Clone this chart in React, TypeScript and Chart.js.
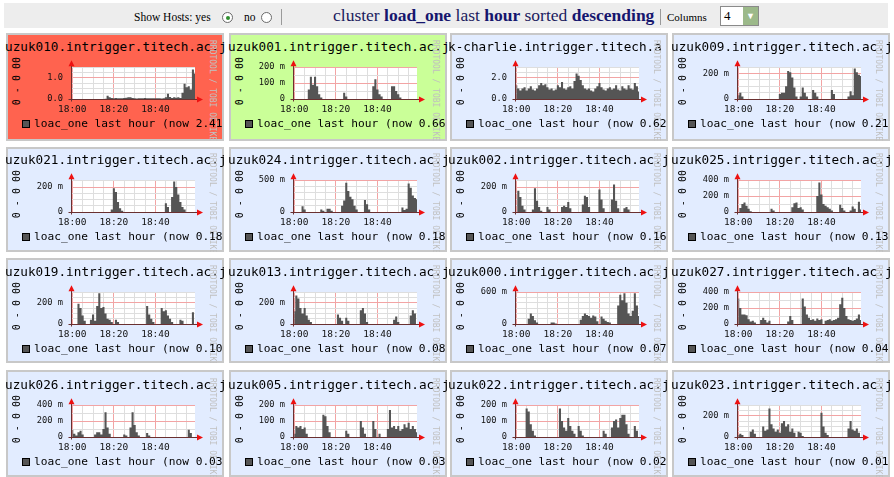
import React, { useEffect, useRef } from "react";
import { Chart, registerables } from "chart.js";

Chart.register(...registerables);

// ---------- data ----------
const MINUTES = [
  0, 1, 2, 3, 4, 5, 6, 7, 8, 9, 10, 11, 12, 13, 14, 15, 16, 17, 18, 19,
  20, 21, 22, 23, 24, 25, 26, 27, 28, 29, 30, 31, 32, 33, 34, 35, 36, 37, 38, 39,
  40, 41, 42, 43, 44, 45, 46, 47, 48, 49, 50, 51, 52, 53, 54, 55, 56, 57, 58, 59,
];
const X_GRID_MINUTES = [0, 5, 10, 15, 20, 25, 30, 35, 40, 45, 50, 55];
const X_LABEL_MINUTES = [0, 20, 40];
const X_LABEL_TEXT = ["18:00", "18:20", "18:40"];

const HOSTS = [
  "uzuk010.intrigger.titech.ac.j",
  "uzuk001.intrigger.titech.ac.j",
  "k-charlie.intrigger.titech.a",
  "uzuk009.intrigger.titech.ac.j",
  "uzuk021.intrigger.titech.ac.j",
  "uzuk024.intrigger.titech.ac.j",
  "uzuk002.intrigger.titech.ac.j",
  "uzuk025.intrigger.titech.ac.j",
  "uzuk019.intrigger.titech.ac.j",
  "uzuk013.intrigger.titech.ac.j",
  "uzuk000.intrigger.titech.ac.j",
  "uzuk027.intrigger.titech.ac.j",
  "uzuk026.intrigger.titech.ac.j",
  "uzuk005.intrigger.titech.ac.j",
  "uzuk022.intrigger.titech.ac.j",
  "uzuk023.intrigger.titech.ac.j",
];
const NOW_VALUES = [
  "2.41", "0.66", "0.62", "0.21", "0.18", "0.18", "0.16", "0.13",
  "0.10", "0.08", "0.07", "0.04", "0.03", "0.03", "0.02", "0.01",
];
const HOST_COLORS = [
  "#ff634f", "#caff98", "#e2ecff", "#e2ecff",
  "#e2ecff", "#e2ecff", "#e2ecff", "#e2ecff",
  "#e2ecff", "#e2ecff", "#e2ecff", "#e2ecff",
  "#e2ecff", "#e2ecff", "#e2ecff", "#e2ecff",
];

const LOAD_UZUK010 = [
  0, 0, 0, 0, 0, 0, 0, 0, 0, 0,
  0, 0, 0, 0, 0, 0, 0.01, 0.15, 0.08, 0.05,
  0.04, 0.05, 0.03, 0.04, 0.03, 0.05, 0.06, 0.08, 0.08, 0.05,
  0.03, 0.02, 0.03, 0.04, 0.03, 0.05, 0.04, 0.03, 0.04, 0.03,
  0.03, 0.04, 0.03, 0.02, 0.03, 0.08, 0.25, 0.1, 0.05, 0.08,
  0.06, 0.08, 0.05, 0.3, 0.72, 0.55, 0.6, 0.45, 1.39, 1.2,
];
const LOAD_UZUK001 = [
  0, 0, 0, 0, 0, 0, 0, 0.06, 0.14, 0.09,
  0.14, 0.08, 0.03, 0.01, 0, 0, 0, 0, 0, 0,
  0, 0, 0, 0, 0.04, 0.015, 0, 0, 0, 0,
  0, 0, 0, 0, 0, 0, 0, 0, 0.08, 0.125,
  0.06, 0.03, 0.015, 0, 0, 0, 0, 0.08, 0.08, 0.05,
  0.03, 0.01, 0, 0, 0, 0, 0, 0, 0, 0,
];
const LOAD_CHARLIE = [
  1.3, 1.0, 0.8, 1.0, 1.1, 0.8, 1.0, 1.2, 0.9, 0.8,
  1.0, 1.3, 1.5, 1.3, 1.4, 1.1, 0.9, 1.0, 0.8, 0.9,
  1.3, 1.1, 1.6, 1.0, 0.9, 1.1, 1.2, 1.0, 1.7, 2.4,
  2.2, 1.8, 1.3, 1.0, 0.9, 1.0, 0.8, 0.7, 1.0, 1.2,
  1.5, 1.1, 0.9, 0.8, 1.0, 1.1, 0.9, 1.0, 1.3, 0.9,
  0.8, 1.2, 1.0, 0.9, 1.3, 1.0, 0.9, 1.5, 1.2, 0.7,
];
const LOAD_UZUK009 = [
  0.03, 0.05, 0.02, 0, 0, 0, 0, 0, 0, 0,
  0, 0, 0, 0, 0, 0, 0, 0, 0, 0,
  0.04, 0.05, 0.05, 0.1, 0.22, 0.21, 0.17, 0.09, 0.02, 0,
  0.02, 0.09, 0.05, 0.02, 0, 0, 0.07, 0.05, 0.02, 0,
  0, 0, 0, 0, 0, 0.07, 0.04, 0, 0, 0,
  0, 0, 0, 0.02, 0.06, 0.03, 0.24, 0.21, 0.19, 0.18,
];
const LOAD_UZUK021 = [
  0, 0, 0, 0, 0, 0, 0, 0, 0, 0,
  0, 0, 0, 0, 0, 0, 0, 0, 0, 0.02,
  0.19, 0.16, 0.08, 0.03, 0.01, 0, 0, 0, 0, 0,
  0, 0, 0, 0, 0, 0, 0, 0, 0, 0,
  0, 0, 0, 0, 0, 0.07, 0.04, 0, 0.12, 0.245,
  0.2, 0.14, 0.08, 0.04, 0.02, 0, 0, 0, 0, 0,
];
const LOAD_UZUK024 = [
  0, 0, 0, 0, 0.09, 0.04, 0, 0, 0, 0,
  0, 0, 0, 0.04, 0.02, 0, 0.05, 0.05, 0.02, 0,
  0, 0, 0, 0.1, 0.18, 0.46, 0.33, 0.24, 0.2, 0.1,
  0.04, 0, 0, 0, 0.19, 0.12, 0.04, 0, 0, 0,
  0, 0, 0, 0, 0, 0, 0, 0, 0, 0,
  0, 0, 0.07, 0.03, 0.05, 0.45, 0.38, 0.26, 0.22, 0.2,
];
const LOAD_UZUK002 = [
  0, 0.17, 0.12, 0.05, 0.02, 0, 0, 0, 0.02, 0.19,
  0.09, 0.04, 0.01, 0, 0, 0.04, 0.02, 0, 0, 0,
  0, 0, 0.04, 0.05, 0.04, 0.08, 0.03, 0, 0, 0,
  0, 0, 0.06, 0.13, 0.12, 0.04, 0, 0, 0, 0,
  0.18, 0.1, 0.03, 0, 0, 0, 0.1, 0.22, 0.09, 0.03,
  0, 0, 0.03, 0.04, 0.02, 0, 0, 0, 0, 0,
];
const LOAD_UZUK025 = [
  0, 0.05, 0.1, 0.12, 0.08, 0.04, 0.01, 0, 0, 0,
  0, 0, 0, 0, 0, 0, 0.04, 0.02, 0, 0,
  0, 0, 0, 0, 0, 0, 0.06, 0.11, 0.12, 0.05,
  0.06, 0.03, 0, 0, 0, 0, 0, 0, 0.2, 0.37,
  0.22, 0.1, 0.08, 0.06, 0.04, 0.02, 0, 0, 0, 0.09,
  0.05, 0.02, 0, 0, 0.02, 0.07, 0.04, 0, 0.13, 0.03,
];
const LOAD_UZUK019 = [
  0, 0, 0, 0.19, 0.15, 0.08, 0.03, 0, 0, 0.04,
  0.09, 0.03, 0.17, 0.29, 0.15, 0.16, 0.1, 0.05, 0.04, 0.02,
  0, 0.04, 0.02, 0, 0, 0, 0, 0, 0, 0,
  0, 0, 0, 0, 0, 0, 0.17, 0.09, 0.05, 0.02,
  0, 0, 0, 0.15, 0.12, 0.13, 0.08, 0.05, 0.02, 0,
  0, 0, 0.04, 0.03, 0, 0, 0, 0, 0.11, 0,
];
const LOAD_UZUK013 = [
  0.12, 0.27, 0.24, 0.15, 0.1, 0.15, 0.08, 0.04, 0.02, 0,
  0, 0, 0, 0, 0, 0, 0, 0, 0, 0,
  0, 0.09, 0.06, 0.03, 0, 0.06, 0.03, 0, 0, 0,
  0, 0, 0.13, 0.15, 0.1, 0.02, 0, 0, 0, 0,
  0, 0, 0, 0, 0, 0, 0, 0, 0.04, 0.07,
  0.02, 0, 0, 0, 0, 0, 0.08, 0.13, 0.1, 0,
];
const LOAD_UZUK000 = [
  0, 0, 0, 0, 0, 0, 0.1, 0.2, 0.15, 0.07,
  0.03, 0, 0, 0, 0, 0, 0, 0.03, 0.03, 0.01,
  0, 0, 0, 0, 0, 0, 0, 0, 0, 0,
  0, 0.08, 0.15, 0.2, 0.17, 0.15, 0.12, 0.16, 0.14, 0.05,
  0, 0.14, 0.1, 0.06, 0.04, 0.03, 0, 0, 0, 0.35,
  0.55, 0.45, 0.58, 0.4, 0.2, 0.15, 0.25, 0.58, 0.35, 0.15,
];
const LOAD_UZUK027 = [
  0.32, 0.2, 0.12, 0.12, 0.11, 0.06, 0.03, 0.04, 0.02, 0,
  0, 0.05, 0.08, 0.05, 0.02, 0.04, 0, 0, 0, 0,
  0, 0, 0, 0, 0.03, 0.1, 0.05, 0, 0, 0,
  0, 0.32, 0.22, 0.12, 0.08, 0.05, 0.06, 0.04, 0.07, 0.05,
  0.06, 0, 0.04, 0.05, 0.06, 0.04, 0.05, 0.06, 0.08, 0.25,
  0.33, 0.2, 0.1, 0.06, 0.05, 0.04, 0.05, 0.07, 0.12, 0.05,
];
const LOAD_UZUK026 = [
  0.09, 0.04, 0.02, 0.06, 0.08, 0.03, 0, 0, 0, 0,
  0, 0.03, 0.06, 0.06, 0.03, 0.1, 0.31, 0.12, 0.04, 0,
  0, 0, 0, 0, 0, 0.03, 0.02, 0, 0.12, 0.31,
  0.15, 0.06, 0.02, 0, 0, 0, 0.05, 0.02, 0, 0,
  0, 0, 0, 0, 0, 0, 0, 0, 0, 0,
  0, 0, 0, 0, 0, 0, 0.09, 0.05, 0, 0,
];
const LOAD_UZUK005 = [
  0.02, 0.07, 0.06, 0.07, 0.05, 0.06, 0.02, 0, 0, 0,
  0, 0, 0, 0, 0.14, 0.13, 0.07, 0.03, 0, 0,
  0, 0, 0, 0, 0, 0.04, 0.02, 0, 0, 0,
  0, 0, 0.1, 0.06, 0.02, 0, 0, 0, 0.1, 0.05,
  0, 0.02, 0, 0, 0, 0.05, 0.17, 0.06, 0.07, 0.05,
  0.07, 0.04, 0.05, 0.08, 0.06, 0.09, 0.05, 0.07, 0.05, 0.03,
];
const LOAD_UZUK022 = [
  0, 0, 0, 0, 0, 0.18, 0.16, 0.08, 0.04, 0.01,
  0, 0, 0, 0, 0, 0, 0, 0, 0, 0,
  0, 0.18, 0.1, 0.06, 0.04, 0.12, 0.07, 0.04, 0.02, 0,
  0.07, 0.04, 0.01, 0, 0, 0, 0, 0, 0, 0,
  0, 0, 0.04, 0.02, 0, 0, 0.06, 0.1, 0.11, 0.06,
  0.12, 0.14, 0.14, 0.08, 0.02, 0, 0, 0.07, 0.04, 0,
];
const LOAD_UZUK023 = [
  0.02, 0.03, 0.02, 0, 0, 0, 0.05, 0.07, 0.03, 0,
  0, 0, 0.1, 0.06, 0.07, 0.27, 0.12, 0.08, 0.05, 0.07,
  0.04, 0.13, 0.15, 0.1, 0.12, 0.05, 0.08, 0.04, 0, 0.05,
  0.04, 0.01, 0, 0, 0, 0, 0, 0, 0, 0,
  0.23, 0.1, 0.04, 0.02, 0, 0, 0, 0, 0, 0,
  0, 0, 0, 0.08, 0.15, 0.07, 0.06, 0.08, 0.04, 0,
];

const SERIES = [
  LOAD_UZUK010, LOAD_UZUK001, LOAD_CHARLIE, LOAD_UZUK009,
  LOAD_UZUK021, LOAD_UZUK024, LOAD_UZUK002, LOAD_UZUK025,
  LOAD_UZUK019, LOAD_UZUK013, LOAD_UZUK000, LOAD_UZUK027,
  LOAD_UZUK026, LOAD_UZUK005, LOAD_UZUK022, LOAD_UZUK023,
];

const Y_MAX = [1.5, 0.2, 3.0, 0.25, 0.255, 0.5, 0.255, 0.4, 0.3, 0.3, 0.6, 0.4, 0.4, 0.2, 0.2, 0.3];
const Y_MAJOR = [1, 0.1, 2, 0.2, 0.2, 0.5, 0.2, 0.2, 0.2, 0.2, 0.6, 0.2, 0.2, 0.1, 0.1, 0.2];
const Y_MINOR = [0.25, 0.05, 0.5, 0.05, 0.05, 0.1, 0.05, 0.1, 0.05, 0.05, 0.1, 0.1, 0.1, 0.05, 0.05, 0.05];

// ---------- layout ----------
const X_MIN = -0.6;
const X_MAX = 59;
const COL_LEFT = [4, 227, 448, 670];
const PLOT_LEFT = [71, 293, 515, 737];
const PLOT_WIDTH = 124;
const ROW_TITLE_Y = [47, 160, 272, 385];
const ROW_BOX_TOP = [33, 147, 258, 370];
const ROW_BOX_BOTTOM = [141, 252, 363, 477];
const IMG_W = 222;
const CANVAS_H = 65;

const MONO = '"DejaVu Sans Mono", monospace';
const SERIF = '"Liberation Serif", "Times New Roman", serif';
const AREA_COLOR = "#555555";
const MINOR_GRID = "#dedede";
const MAJOR_GRID = "#f2a4a4";
const AXIS_COLOR = "#6a3030";
const ARROW_COLOR = "#ee1111";

const near = (a: number, b: number) => Math.abs(a - b) < 1e-6;
const isMultiple = (v: number, step: number) => near(v / step, Math.round(v / step));

const rrdPlugin = {
  id: "rrdLook",
  beforeDraw(chart: any) {
    const { ctx, chartArea: a } = chart;
    ctx.save();
    ctx.fillStyle = "#ffffff";
    ctx.fillRect(a.left, a.top, a.right - a.left, a.bottom - a.top);
    ctx.restore();
  },
  afterDraw(chart: any) {
    const { ctx, chartArea: a } = chart;
    const x0 = Math.round(a.left) + 0.5;
    const y0 = Math.round(a.bottom) + 0.5;
    ctx.save();
    ctx.strokeStyle = AXIS_COLOR;
    ctx.lineWidth = 1;
    ctx.beginPath();
    ctx.moveTo(x0 - 3, y0);
    ctx.lineTo(a.right + 4, y0);
    ctx.moveTo(x0, y0 + 2);
    ctx.lineTo(x0, a.top - 3);
    ctx.stroke();
    ctx.fillStyle = ARROW_COLOR;
    ctx.beginPath();
    ctx.moveTo(a.right + 8, y0);
    ctx.lineTo(a.right + 2, y0 - 3);
    ctx.lineTo(a.right + 2, y0 + 3);
    ctx.closePath();
    ctx.fill();
    ctx.beginPath();
    ctx.moveTo(x0, a.top - 7);
    ctx.lineTo(x0 - 3, a.top - 1);
    ctx.lineTo(x0 + 3, a.top - 1);
    ctx.closePath();
    ctx.fill();
    ctx.restore();
  },
};

function formatY(v: number, i: number): string {
  if (Y_MAX[i] >= 1) return v.toFixed(1);
  if (near(v, 0)) return "0";
  return Math.round(v * 1000) + " m";
}

function RrdPanel({ index }: { index: number }) {
  const canvasRef = useRef<HTMLCanvasElement | null>(null);
  const r = Math.floor(index / 4);
  const c = index % 4;
  const left = COL_LEFT[c];
  const titleY = ROW_TITLE_Y[r];
  const boxTop = ROW_BOX_TOP[r];
  const boxH = ROW_BOX_BOTTOM[r] - boxTop;

  useEffect(() => {
    const canvas = canvasRef.current;
    if (!canvas) return;
    const yMax = Y_MAX[index];
    const major = Y_MAJOR[index];
    const minor = Y_MINOR[index];
    const yTicks: number[] = [];
    for (let k = 0; k * minor <= yMax + 1e-9; k++) yTicks.push(+(k * minor).toFixed(4));
    const plotLeftRel = PLOT_LEFT[c] - left;
    const rightPad = IMG_W - plotLeftRel - PLOT_WIDTH;
    const values = SERIES[index];

    const chart = new Chart(canvas, {
      type: "line",
      data: {
        datasets: [
          {
            data: values.map((v, i) => ({ x: MINUTES[i], y: v })),
            fill: "origin",
            backgroundColor: AREA_COLOR,
            borderWidth: 0,
            borderColor: AREA_COLOR,
            pointRadius: 0,
            stepped: "middle",
          } as any,
        ],
      },
      options: {
        animation: false,
        responsive: false,
        events: [],
        layout: { padding: { top: 8, right: rightPad, left: 0, bottom: 0 } },
        plugins: { legend: { display: false }, tooltip: { enabled: false }, title: { display: false } },
        scales: {
          x: {
            type: "linear",
            min: X_MIN,
            max: X_MAX,
            afterFit: (s: any) => {
              s.height = CANVAS_H - 8 - 37;
            },
            afterBuildTicks: (s: any) => {
              s.ticks = X_GRID_MINUTES.map((v) => ({ value: v }));
            },
            grid: {
              drawTicks: false,
              color: (ctx: any) => (ctx.tick && isMultiple(ctx.tick.value, 20) ? MAJOR_GRID : MINOR_GRID),
            },
            border: { display: false },
            ticks: {
              autoSkip: false,
              maxRotation: 0,
              padding: 5,
              color: "#111",
              font: { family: MONO, size: 9.5 },
              callback: (v: any) => {
                const k = X_LABEL_MINUTES.indexOf(Number(v));
                return k >= 0 ? X_LABEL_TEXT[k] : "";
              },
            },
          },
          y: {
            type: "linear",
            min: 0,
            max: yMax,
            afterFit: (s: any) => {
              s.width = plotLeftRel;
            },
            afterBuildTicks: (s: any) => {
              s.ticks = yTicks.map((v) => ({ value: v }));
            },
            grid: {
              drawTicks: false,
              color: (ctx: any) => (ctx.tick && isMultiple(ctx.tick.value, major) ? MAJOR_GRID : MINOR_GRID),
            },
            border: { display: false },
            ticks: {
              autoSkip: false,
              padding: 8,
              color: "#111",
              font: { family: MONO, size: 8.7 },
              callback: (v: any) => (isMultiple(Number(v), major) ? formatY(Number(v), index) : ""),
            },
          },
        },
      } as any,
      plugins: [rrdPlugin],
    });
    return () => chart.destroy();
  }, [index]);

  return (
    <>
      <div
        style={{
          position: "absolute",
          left: left + 2,
          top: boxTop,
          width: 218,
          height: boxH,
          background: HOST_COLORS[index],
          border: "2px solid #c8c8c8",
          boxSizing: "border-box",
        }}
      />
      <div style={{ position: "absolute", left, top: boxTop, width: IMG_W, height: boxH, overflow: "hidden" }}>
        <div
          style={{
            position: "absolute",
            left: c === 2 ? 0 : 1,
            top: titleY - boxTop - 8,
            fontFamily: MONO,
            fontSize: 12.7,
            lineHeight: "16px",
            whiteSpace: "nowrap",
            color: "#000",
          }}
        >
          {HOSTS[index]}
        </div>
        <div
          style={{
            position: "absolute",
            left: 7,
            top: titleY - boxTop + 10,
            fontFamily: MONO,
            fontSize: 10,
            lineHeight: "12px",
            writingMode: "vertical-rl",
            transform: "rotate(180deg)",
            whiteSpace: "nowrap",
            color: "#000",
          }}
        >
          0 - 0 00
        </div>
        <div
          style={{
            position: "absolute",
            left: 204,
            top: titleY - boxTop - 7,
            fontFamily: MONO,
            fontSize: 8,
            lineHeight: "9px",
            writingMode: "vertical-rl",
            whiteSpace: "nowrap",
            color: "#c0c0c0",
          }}
        >
          RRDTOOL / TOBI OETIKER
        </div>
        <canvas
          ref={canvasRef}
          width={IMG_W}
          height={CANVAS_H}
          style={{ position: "absolute", left: 0, top: titleY - boxTop + 7, width: IMG_W, height: CANVAS_H }}
        />
        <div
          style={{
            position: "absolute",
            left: 18,
            top: titleY - boxTop + 73,
            width: 8,
            height: 8,
            background: AREA_COLOR,
            border: "1px solid #000",
            boxSizing: "border-box",
          }}
        />
        <div
          style={{
            position: "absolute",
            left: 30,
            top: titleY - boxTop + 70,
            fontFamily: MONO,
            fontSize: 11.2,
            lineHeight: "14px",
            whiteSpace: "nowrap",
            color: "#000",
          }}
        >
          {"loac_one last hour (now " + NOW_VALUES[index]}
        </div>
      </div>
    </>
  );
}

function Radio({ left, checked }: { left: number; checked: boolean }) {
  return (
    <div
      style={{
        position: "absolute",
        left,
        top: 12,
        width: 11,
        height: 11,
        borderRadius: "50%",
        border: "1px solid #6b6b6b",
        background: "#fff",
        boxSizing: "border-box",
      }}
    >
      {checked && (
        <div
          style={{
            position: "absolute",
            left: 2.5,
            top: 2.5,
            width: 4,
            height: 4,
            borderRadius: "50%",
            background: "#2f8f2f",
          }}
        />
      )}
    </div>
  );
}

export default function App() {
  const navy = "#1b1b5e";
  return (
    <div style={{ position: "absolute", left: 0, top: 0, width: 894, height: 477, overflow: "hidden", background: "#fff" }}>
      <div style={{ position: "absolute", left: 4, top: 3, width: 884, height: 25, background: "#ededed" }} />
      <div
        style={{
          position: "absolute",
          left: 134,
          top: 10,
          fontFamily: SERIF,
          fontSize: 11.5,
          lineHeight: "14px",
          whiteSpace: "nowrap",
          color: "#000",
        }}
      >
        Show Hosts: yes
      </div>
      <Radio left={222} checked={true} />
      <div
        style={{ position: "absolute", left: 244, top: 10, fontFamily: SERIF, fontSize: 11.5, lineHeight: "14px", color: "#000" }}
      >
        no
      </div>
      <Radio left={261} checked={false} />
      <div style={{ position: "absolute", left: 281, top: 9, width: 1, height: 16, background: "#9a9a9a" }} />
      <div
        style={{
          position: "absolute",
          left: 333,
          top: 5,
          fontFamily: SERIF,
          fontSize: 17.5,
          lineHeight: "20px",
          whiteSpace: "nowrap",
          color: navy,
        }}
      >
        cluster <b style={{ color: "#16166e" }}>load_one</b> last <b style={{ color: "#16166e" }}>hour</b> sorted{" "}
        <b style={{ color: "#16166e" }}>descending</b>
      </div>
      <div style={{ position: "absolute", left: 660, top: 9, width: 1, height: 16, background: "#9a9a9a" }} />
      <div
        style={{ position: "absolute", left: 667, top: 10, fontFamily: SERIF, fontSize: 11, lineHeight: "14px", color: "#000" }}
      >
        Columns
      </div>
      <div
        style={{
          position: "absolute",
          left: 720,
          top: 6,
          width: 39,
          height: 20,
          border: "1px solid #8a8a8a",
          background: "#fff",
          boxSizing: "border-box",
        }}
      >
        <div style={{ position: "absolute", left: 3, top: 1, fontFamily: SERIF, fontSize: 13, lineHeight: "16px" }}>4</div>
        <div
          style={{
            position: "absolute",
            right: 0,
            top: 0,
            width: 15,
            height: 18,
            background: "#9cb98a",
            color: "#fff",
            fontSize: 9,
            lineHeight: "18px",
            textAlign: "center",
          }}
        >
          ▼
        </div>
      </div>
      {HOSTS.map((_, i) => (
        <RrdPanel key={i} index={i} />
      ))}
    </div>
  );
}
